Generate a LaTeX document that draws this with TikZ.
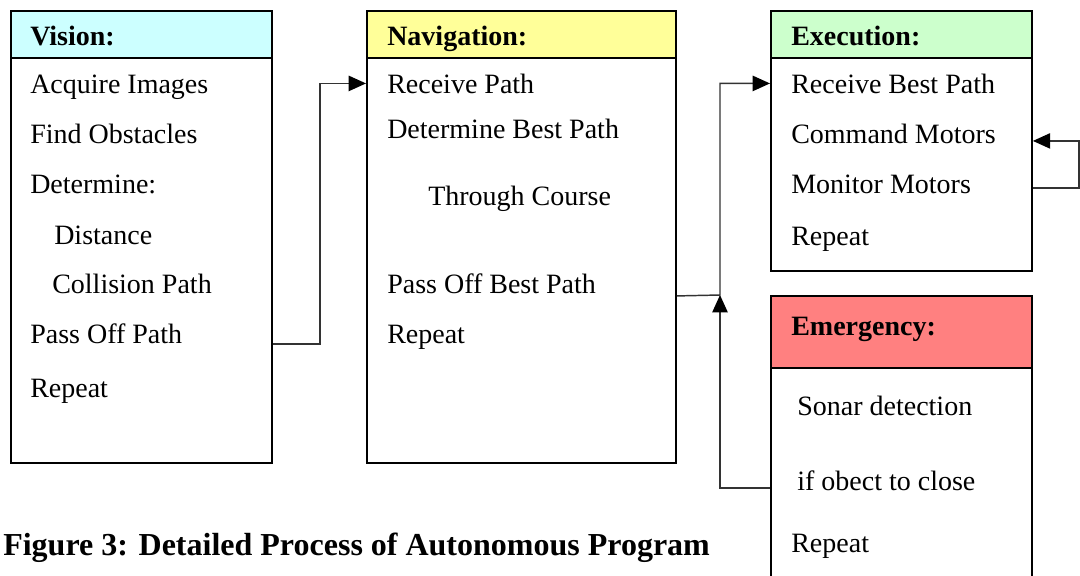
\documentclass[tikz,border=0pt]{standalone}
\usepackage{fontspec}
\setmainfont{Liberation Serif}
\usetikzlibrary{arrows.meta}

\definecolor{visioncyan}{HTML}{CCFFFF}
\definecolor{navyellow}{HTML}{FFFF99}
\definecolor{execgreen}{HTML}{CCFFCC}
\definecolor{emergred}{HTML}{FF8080}

\begin{document}
\begin{tikzpicture}[x=0.75pt, y=-0.75pt, >={Triangle[length=13pt, width=11.5pt, color=black]},
    box/.style={draw, line width=1.4pt, anchor=north west, inner sep=0pt},
    item/.style={anchor=base west, inner sep=0pt, font=\fontsize{21}{25}\selectfont},
    head/.style={item, font=\fontsize{21}{25}\selectfont\bfseries},
    wire/.style={line width=1.1pt, draw=black!80}]
    \useasboundingbox (0,0) rectangle (1080,575);
    % boxes
    \node[box, minimum width=195.75pt, minimum height=339pt] (Vision) at (10,10) {};
    \node[box, fill=visioncyan, minimum width=195.75pt, minimum height=35.25pt] (Vision Head) at (10,10) {};
    \node[box, minimum width=231.75pt, minimum height=339pt] (Navigation) at (366,10) {};
    \node[box, fill=navyellow, minimum width=231.75pt, minimum height=35.25pt] (Navigation Head) at (366,10) {};
    \node[box, minimum width=195.75pt, minimum height=195pt] (Execution) at (770,10) {};
    \node[box, fill=execgreen, minimum width=195.75pt, minimum height=35.25pt] (Execution Head) at (770,10) {};
    \node[box, minimum width=195.75pt, minimum height=212.25pt] (Emergency) at (770,295) {};
    \node[box, fill=emergred, minimum width=195.75pt, minimum height=54pt] (Emergency Head) at (770,295) {};
    % vision
    \node[head] (Vision Title) at (30,45) {Vision:};
    \node[item] (Acquire Images) at (30,93) {Acquire Images};
    \node[item] (Find Obstacles) at (30,143) {Find Obstacles};
    \node[item] (Determine) at (30,193) {Determine:};
    \node[item] (Distance) at (54,244) {Distance};
    \node[item] (Collision Path) at (52,293) {Collision Path};
    \node[item] (Pass Off Path) at (30,343) {Pass Off Path};
    \node[item] (Vision Repeat) at (30,397) {Repeat};
    % navigation
    \node[head] (Navigation Title) at (387,45) {Navigation:};
    \node[item] (Receive Path) at (387,93) {Receive Path};
    \node[item] (Determine Best Path) at (387,138) {Determine Best Path};
    \node[item] (Through Course) at (428,205) {Through Course};
    \node[item] (Pass Off Best Path) at (387,293) {Pass Off Best Path};
    \node[item] (Navigation Repeat) at (387,343) {Repeat};
    % execution
    \node[head] (Execution Title) at (791,45) {Execution:};
    \node[item] (Receive Best Path) at (791,93) {Receive Best Path};
    \node[item] (Command Motors) at (791,143) {Command Motors};
    \node[item] (Monitor Motors) at (791,193) {Monitor Motors};
    \node[item] (Execution Repeat) at (791,245) {Repeat};
    % emergency
    \node[head] (Emergency Title) at (791,335) {Emergency:};
    \node[item] (Sonar Detection) at (797,415) {Sonar detection};
    \node[item] (Object Close) at (797,490) {if obect to close};
    \node[item] (Emergency Repeat) at (791,552) {Repeat};
    \node[anchor=base west, inner sep=0pt, font=\fontsize{24}{28}\selectfont\bfseries] (Caption) at (3,555) {Figure 3: Detailed Process of Autonomous Program};
    % connectors
    \coordinate (junction) at (720,295);
    \draw[wire, ->] ([yshift=-80.25pt]Vision.east) -- ++(47,0) |- (Navigation.west |- Receive Path.west);
    \draw[wire, ->] ([yshift=-44.25pt]Navigation.east) -- (junction) |- (Execution.west |- Receive Best Path.west);
    \draw[wire, ->] ([yshift=-37.9pt]Emergency.west) -| (junction);
    \draw[wire, ->] ([yshift=-35.25pt]Execution.east) -- ++(46,0) |- (Execution.east);
\end{tikzpicture}
\end{document}
